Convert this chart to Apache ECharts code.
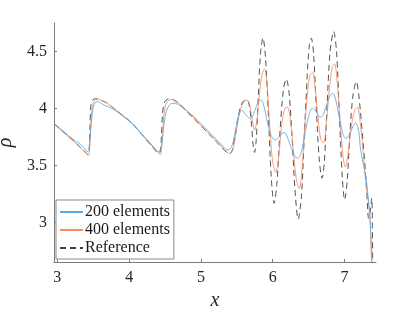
<!DOCTYPE html>
<html>
<head>
<meta charset="utf-8">
<script src="https://cdn.jsdelivr.net/npm/echarts@6/dist/echarts.min.js"></script>
<style>
html,body{margin:0;padding:0;background:#fff;}
#chart{width:415px;height:312px;}
</style>
</head>
<body>
<div id="chart"></div>
<script>
// Reference (dashed)
const xRef = [2.953,3.05,3.15,3.25,3.33,3.38,3.42,3.445,3.455,3.465,3.48,3.50,3.53,3.57,3.62,3.70,3.80,3.90,4.00,4.10,4.20,4.30,4.37,4.41,4.435,4.45,4.465,4.48,4.50,4.53,4.57,4.62,4.70,4.80,4.90,5.00,5.10,5.20,5.30,5.36,5.40,5.44,5.48,5.52,5.56,5.60,5.64,5.67,5.70,5.725,5.748,5.77,5.80,5.83,5.865,5.90,5.94,5.98,6.02,6.06,6.10,6.15,6.19,6.23,6.27,6.31,6.355,6.40,6.44,6.48,6.51,6.538,6.57,6.61,6.65,6.688,6.72,6.76,6.80,6.85,6.89,6.93,6.97,7.003,7.04,7.08,7.12,7.166,7.20,7.24,7.28,7.31,7.337,7.36,7.38,7.39,7.395];
const yRef = [3.868,3.815,3.76,3.705,3.655,3.625,3.60,3.64,3.85,4.02,4.065,4.08,4.085,4.08,4.07,4.045,3.995,3.945,3.895,3.83,3.755,3.68,3.63,3.605,3.63,3.76,3.95,4.03,4.065,4.08,4.085,4.075,4.04,3.975,3.915,3.85,3.785,3.72,3.655,3.615,3.605,3.64,3.78,3.93,4.03,4.07,4.077,4.04,3.90,3.70,3.615,3.72,4.10,4.48,4.62,4.45,3.95,3.40,3.17,3.35,3.78,4.17,4.26,4.13,3.75,3.30,3.03,3.22,3.75,4.27,4.55,4.617,4.48,3.98,3.55,3.39,3.53,4.05,4.50,4.675,4.50,3.95,3.40,3.20,3.38,3.82,4.12,4.237,4.12,3.85,3.55,3.28,3.04,3.10,3.216,2.95,2.5];

// 400 elements
const x400 = [2.953,3.05,3.15,3.25,3.33,3.38,3.42,3.435,3.45,3.465,3.48,3.50,3.53,3.56,3.62,3.70,3.80,3.90,4.00,4.10,4.20,4.30,4.37,4.42,4.44,4.455,4.47,4.49,4.52,4.56,4.60,4.65,4.70,4.80,4.90,5.00,5.10,5.20,5.30,5.36,5.40,5.44,5.48,5.52,5.56,5.60,5.645,5.68,5.71,5.748,5.78,5.82,5.855,5.887,5.92,5.96,6.00,6.046,6.09,6.13,6.17,6.208,6.25,6.29,6.33,6.371,6.41,6.45,6.49,6.52,6.556,6.59,6.63,6.67,6.71,6.75,6.79,6.83,6.863,6.90,6.94,6.98,7.013,7.05,7.09,7.14,7.184,7.22,7.25,7.29,7.32,7.347,7.365,7.378];
const y400 = [3.862,3.81,3.755,3.70,3.65,3.62,3.595,3.588,3.66,3.85,3.98,4.05,4.08,4.085,4.07,4.045,3.997,3.947,3.897,3.832,3.758,3.685,3.635,3.603,3.60,3.66,3.82,3.97,4.05,4.075,4.08,4.07,4.045,3.98,3.92,3.855,3.79,3.725,3.66,3.62,3.605,3.63,3.75,3.90,4.01,4.06,4.075,4.03,3.92,3.81,3.90,4.15,4.31,4.346,4.22,3.85,3.53,3.44,3.62,3.88,4.00,4.013,3.88,3.62,3.38,3.30,3.48,3.86,4.17,4.29,4.316,4.20,3.93,3.73,3.70,3.88,4.17,4.36,4.39,4.23,3.89,3.58,3.49,3.60,3.82,3.98,4.013,3.88,3.70,3.40,3.25,3.11,2.90,2.55];

// 200 elements
const x200 = [2.953,3.05,3.15,3.25,3.30,3.35,3.40,3.42,3.44,3.46,3.48,3.50,3.53,3.56,3.60,3.65,3.70,3.80,3.90,4.00,4.10,4.20,4.30,4.36,4.40,4.43,4.46,4.49,4.52,4.56,4.60,4.65,4.70,4.80,4.90,5.00,5.10,5.20,5.30,5.36,5.39,5.43,5.47,5.51,5.545,5.575,5.62,5.69,5.75,5.80,5.835,5.87,5.92,5.97,6.03,6.08,6.13,6.166,6.20,6.25,6.30,6.35,6.40,6.45,6.50,6.55,6.60,6.66,6.70,6.75,6.80,6.835,6.87,6.92,6.97,7.013,7.06,7.11,7.155,7.20,7.22,7.26,7.30,7.347,7.365,7.385,7.39];
const y200 = [3.87,3.82,3.765,3.715,3.70,3.67,3.63,3.622,3.65,3.78,3.92,4.01,4.055,4.062,4.05,4.03,4.02,3.985,3.94,3.89,3.83,3.76,3.695,3.65,3.625,3.63,3.72,3.88,3.98,4.03,4.047,4.045,4.03,3.985,3.93,3.87,3.805,3.74,3.675,3.64,3.64,3.67,3.77,3.90,3.97,3.985,3.95,3.91,3.98,4.06,4.077,4.04,3.90,3.78,3.725,3.745,3.785,3.79,3.76,3.67,3.59,3.565,3.62,3.78,3.93,4.004,3.98,3.925,3.94,4.03,4.11,4.135,4.10,3.95,3.80,3.74,3.76,3.83,3.875,3.80,3.67,3.52,3.40,3.11,2.95,2.65,2.5];

const xTicks = [3,4,5,6,7];
const yTicks = [3,3.5,4,4.5];

function pairs(xs, ys){ return xs.map((x,i)=>[x, ys[i]]); }

const chart = echarts.init(document.getElementById('chart'), null, {renderer:'canvas'});
const serif = 'Liberation Serif';
const axisColor = '#7a7a7a';
chart.setOption({
  animation:false,
  backgroundColor:'#fff',
  textStyle:{fontFamily:serif},
  grid:{left:54, top:23, right:39, bottom:50, containLabel:false, outerBoundsMode:'none'},
  xAxis:{
    type:'value', min:2.953, max:7.44,
    name:'x', nameLocation:'middle', nameGap:29,
    nameTextStyle:{fontFamily:serif, fontStyle:'italic', fontSize:20, color:'#262626'},
    axisLine:{show:true, onZero:false, lineStyle:{color:axisColor, width:1}},
    axisTick:{show:true, inside:true, length:3, customValues:xTicks, lineStyle:{color:axisColor}},
    axisLabel:{customValues:xTicks, fontFamily:serif, fontSize:16, color:'#262626', margin:8},
    splitLine:{show:false}
  },
  yAxis:{
    type:'value', min:2.656, max:4.75,
    name:'ρ', nameLocation:'middle', nameGap:38, nameRotate:90,
    nameTextStyle:{fontFamily:serif, fontStyle:'italic', fontSize:20, color:'#262626'},
    axisLine:{show:true, onZero:false, lineStyle:{color:axisColor, width:1}},
    axisTick:{show:true, inside:true, length:3, customValues:yTicks, lineStyle:{color:axisColor}},
    axisLabel:{customValues:yTicks, fontFamily:serif, fontSize:16, color:'#262626', margin:7},
    splitLine:{show:false}
  },
  legend:{
    orient:'vertical', left:56, top:200,
    width:110,
    backgroundColor:'#fff', borderColor:'#8a8a8a', borderWidth:1, borderRadius:0,
    padding:[3,4,2,3], itemGap:0, itemWidth:23, itemHeight:14,
    itemStyle:{opacity:0},
    textStyle:{fontFamily:serif, fontSize:16, color:'#1a1a1a', lineHeight:18, padding:[0,0,0,-3]},
    data:['200 elements','400 elements','Reference']
  },
  series:[
    {name:'Reference', type:'line', data:pairs(xRef,yRef), showSymbol:false, symbol:'none', smooth:0.3, z:1,
     lineStyle:{color:'#404040', width:0.9, type:[6,4]}, itemStyle:{color:'#404040'}},
    {name:'400 elements', type:'line', data:pairs(x400,y400), showSymbol:false, symbol:'none', smooth:0.3, z:2,
     lineStyle:{color:'#f08e66', width:0.85}, itemStyle:{color:'#f08e66'}},
    {name:'200 elements', type:'line', data:pairs(x200,y200), showSymbol:false, symbol:'none', smooth:0.3, z:3,
     lineStyle:{color:'#55ace6', width:0.85}, itemStyle:{color:'#55ace6'}}
  ]
});
</script>
</body>
</html>
